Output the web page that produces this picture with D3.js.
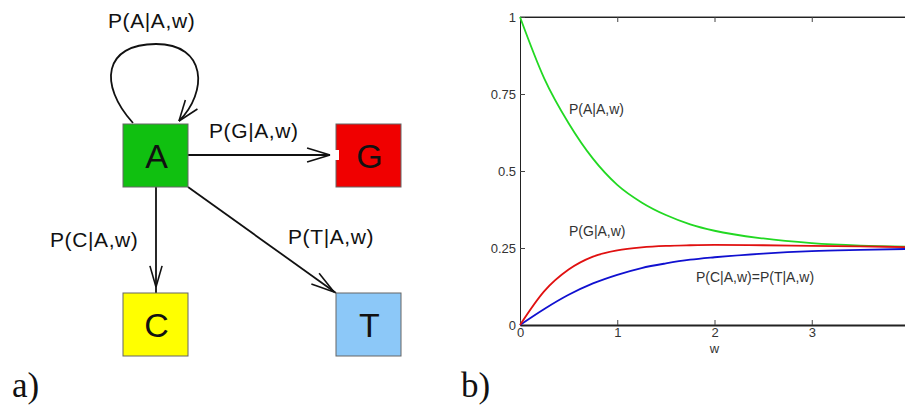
<!DOCTYPE html>
<html>
<head>
<meta charset="utf-8">
<style>
  body { margin: 0; background: #fff; }
  svg { display: block; }
</style>
</head>
<body>
<script src="https://cdn.jsdelivr.net/npm/d3@7"></script>
<script>
// ---- data: panel b) transition probabilities vs w
var wValues   = [0, 0.25, 0.5, 0.75, 1, 1.25, 1.5, 1.75, 2, 2.5, 3, 3.5, 4];
var pAA       = [1, 0.80, 0.655, 0.54, 0.455, 0.398, 0.357, 0.327, 0.306, 0.281, 0.266, 0.258, 0.254];
var pGA       = [0, 0.11, 0.18, 0.222, 0.242, 0.252, 0.257, 0.259, 0.26, 0.259, 0.257, 0.255, 0.253];
var pCA       = [0, 0.052, 0.098, 0.135, 0.163, 0.185, 0.2, 0.212, 0.22, 0.232, 0.24, 0.244, 0.247];
var xTicks    = [0, 1, 2, 3];
var yTicks    = [0, 0.25, 0.5, 0.75, 1];
var yTickText = ['0', '0.25', '0.5', '0.75', '1'];

// ---- data: panel a) graph
var nodeNames  = ['A', 'G', 'C', 'T'];
var edgeLabels = ['P(A|A,w)', 'P(G|A,w)', 'P(C|A,w)', 'P(T|A,w)'];
var curveLabels = ['P(A|A,w)', 'P(G|A,w)', 'P(C|A,w)=P(T|A,w)'];

var width = 905, height = 407;
var svg = d3.select('body').append('svg')
    .attr('width', width).attr('height', height)
    .style('background', '#fff');

// ================= panel a) =================
var nodePos = { A: [123, 124], G: [336, 124], C: [123, 293], T: [336, 293] };
var nodeFill = { A: '#10c010', G: '#f00000', C: '#ffff00', T: '#8cc8f8' };
var boxW = 65, boxH = 63;

var diag = svg.append('g');

function arrowHead(g, tip, angle, len, spread) {
    [-spread, spread].forEach(function (s) {
        var a = angle + Math.PI + s;
        g.append('line')
            .attr('x1', tip[0]).attr('y1', tip[1])
            .attr('x2', tip[0] + len * Math.cos(a))
            .attr('y2', tip[1] + len * Math.sin(a))
            .attr('stroke', '#111').attr('stroke-width', 1.6);
    });
}

var A = nodePos.A;
// self loop
diag.append('path')
    .attr('d', 'M133,123 C98,84 104,44 156,44 C207,44 208,92 179,121')
    .attr('fill', 'none').attr('stroke', '#111').attr('stroke-width', 1.8);
arrowHead(diag, [179, 121], Math.atan2(8, -6), 22, 0.35);

// A -> G
diag.append('line')
    .attr('x1', A[0] + boxW).attr('y1', 155)
    .attr('x2', 330).attr('y2', 155)
    .attr('stroke', '#111').attr('stroke-width', 1.8);
arrowHead(diag, [330, 155], 0, 24, 0.3);

// A -> C
diag.append('line')
    .attr('x1', 156).attr('y1', A[1] + boxH)
    .attr('x2', 156).attr('y2', 293)
    .attr('stroke', '#111').attr('stroke-width', 1.8);
arrowHead(diag, [156, 287], Math.PI / 2, 22, 0.28);

// A -> T
diag.append('line')
    .attr('x1', A[0] + boxW).attr('y1', A[1] + boxH)
    .attr('x2', 336).attr('y2', 293)
    .attr('stroke', '#111').attr('stroke-width', 1.8);
arrowHead(diag, [334, 292], Math.atan2(293 - 187, 336 - 188), 24, 0.28);

// nodes
diag.selectAll('rect.node')
    .data(nodeNames)
    .enter().append('rect')
    .attr('class', 'node')
    .attr('x', function (d) { return nodePos[d][0]; })
    .attr('y', function (d) { return nodePos[d][1]; })
    .attr('width', boxW).attr('height', boxH)
    .attr('fill', function (d) { return nodeFill[d]; })
    .attr('stroke', '#666').attr('stroke-width', 1);

// white notch on G where the arrow tip meets it
diag.append('rect').attr('x', 334).attr('y', 150).attr('width', 5).attr('height', 10).attr('fill', '#fff');

diag.selectAll('text.node')
    .data(nodeNames)
    .enter().append('text')
    .attr('class', 'node')
    .attr('x', function (d) { return nodePos[d][0] + boxW / 2 + 1; })
    .attr('y', function (d) { return nodePos[d][1] + boxH / 2 + 12; })
    .attr('text-anchor', 'middle')
    .style('font-family', '"Liberation Sans", Arial, sans-serif')
    .style('font-size', '34px')
    .attr('fill', '#111')
    .text(function (d) { return d; });

var edgeLabelPos = [[108, 28], [209, 138], [50, 247], [288, 244]];
diag.selectAll('text.edge')
    .data(edgeLabels)
    .enter().append('text')
    .attr('class', 'edge')
    .attr('x', function (d, i) { return edgeLabelPos[i][0]; })
    .attr('y', function (d, i) { return edgeLabelPos[i][1]; })
    .style('font-family', '"Liberation Sans", Arial, sans-serif')
    .style('font-size', '21px')
    .style('letter-spacing', '0.6px')
    .attr('fill', '#111')
    .text(function (d) { return d; });

svg.append('text').attr('x', 12).attr('y', 397)
    .style('font-family', '"Liberation Serif", "DejaVu Serif", serif')
    .style('font-size', '35px').attr('fill', '#111').text('a)');
svg.append('text').attr('x', 461).attr('y', 397)
    .style('font-family', '"Liberation Serif", "DejaVu Serif", serif')
    .style('font-size', '35px').attr('fill', '#111').text('b)');

// ================= panel b) =================
var x = d3.scaleLinear().domain([0, 4]).range([520, 909]);
var y = d3.scaleLinear().domain([0, 1]).range([325, 17]);

var plot = svg.append('g');
var tickFont = '"Liberation Sans", Arial, sans-serif';

// top box line
plot.append('line').attr('x1', x(0)).attr('x2', x(4)).attr('y1', y(1)).attr('y2', y(1))
    .attr('stroke', '#333').attr('stroke-width', 1);

var topAxis = plot.append('g').attr('transform', 'translate(0,' + y(1) + ')')
    .call(d3.axisTop(x).tickValues(xTicks).tickSizeInner(-5).tickSizeOuter(0).tickFormat(''));
var leftAxis = plot.append('g').attr('transform', 'translate(' + x(0) + ',0)')
    .call(d3.axisLeft(y).tickValues(yTicks).tickSizeInner(-5).tickSizeOuter(0).tickPadding(4)
        .tickFormat(function (d, i) { return yTickText[i]; }));
var bottomAxis = plot.append('g').attr('transform', 'translate(0,' + y(0) + ')')
    .call(d3.axisBottom(x).tickValues(xTicks).tickSizeInner(-5).tickSizeOuter(0).tickPadding(4)
        .tickFormat(d3.format('d')));

[topAxis, leftAxis, bottomAxis].forEach(function (ax) {
    ax.select('.domain').attr('stroke', '#222');
    ax.selectAll('.tick line').attr('stroke', '#444');
    ax.selectAll('text').style('font-family', tickFont).style('font-size', '13px').attr('fill', '#333');
});
bottomAxis.select('.domain').attr('stroke-width', 2);
bottomAxis.selectAll('text').attr('dy', '0.6em');

plot.append('text').attr('x', x(2)).attr('y', 353).attr('text-anchor', 'middle')
    .style('font-family', tickFont).style('font-size', '13px').attr('fill', '#333').text('w');

var series = [
    { values: pAA, color: '#22d822' },
    { values: pCA, color: '#1010d0' },
    { values: pGA, color: '#e01010' }
];
var line = d3.line()
    .x(function (d, i) { return x(wValues[i]); })
    .y(function (d) { return y(d); })
    .curve(d3.curveMonotoneX);

plot.selectAll('path.curve')
    .data(series)
    .enter().append('path')
    .attr('class', 'curve')
    .attr('d', function (s) { return line(s.values); })
    .attr('fill', 'none')
    .attr('stroke', function (s) { return s.color; })
    .attr('stroke-width', 1.8);

var curveLabelPos = [[569, 114], [569, 236], [696, 282]];
plot.selectAll('text.curve-label')
    .data(curveLabels)
    .enter().append('text')
    .attr('class', 'curve-label')
    .attr('x', function (d, i) { return curveLabelPos[i][0]; })
    .attr('y', function (d, i) { return curveLabelPos[i][1]; })
    .style('font-family', tickFont).style('font-size', '14px')
    .attr('fill', '#333')
    .text(function (d) { return d; });
</script>
</body>
</html>
